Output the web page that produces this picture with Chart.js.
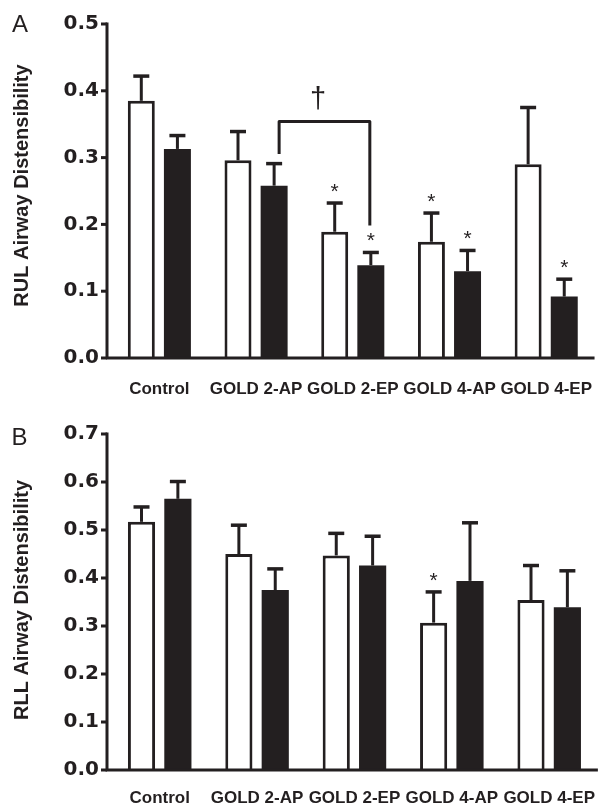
<!DOCTYPE html>
<html><head><meta charset="utf-8">
<script src="https://cdn.jsdelivr.net/npm/chart.js@4"></script>
<style>
html,body{margin:0;padding:0;background:#fff;overflow:hidden;}
#wrap{position:relative;width:613px;height:808px;background:#fff;}
canvas{position:absolute;left:0;}
#c1{top:0;} #c2{top:400px;}
</style></head><body>
<div id="wrap"><canvas id="c1" width="613" height="400"></canvas><canvas id="c2" width="613" height="408"></canvas></div>
<script>
// ---------- data ----------
const categories = ['Control', 'GOLD 2-AP', 'GOLD 2-EP', 'GOLD 4-AP', 'GOLD 4-EP'];

// Panel A: RUL
const rulOpen      = [0.385, 0.296, 0.189, 0.174, 0.290];
const rulOpenSem   = [0.037, 0.043, 0.043, 0.043, 0.085];
const rulFilled    = [0.313, 0.258, 0.139, 0.130, 0.092];
const rulFilledSem = [0.020, 0.033, 0.019, 0.031, 0.026];
const rulOpenStar   = [false, false, true, true, false];
const rulFilledStar = [false, false, true, true, true];
const rulTicks = [0.0, 0.1, 0.2, 0.3, 0.4, 0.5];
// bracket (values on y scale) between GOLD 2-AP and GOLD 2-EP filled bars
const rulBracket = {from: 1, to: 2, top: 0.354, leftEnd: 0.3055, rightEnd: 0.1985, mark: '\u2020'};

// Panel B: RLL
const rllOpen      = [0.517, 0.450, 0.447, 0.307, 0.354];
const rllOpenSem   = [0.031, 0.060, 0.046, 0.064, 0.072];
const rllFilled    = [0.565, 0.375, 0.426, 0.394, 0.339];
const rllFilledSem = [0.036, 0.044, 0.061, 0.121, 0.076];
const rllOpenStar   = [false, false, false, true, false];
const rllFilledStar = [false, false, false, false, false];
const rllTicks = [0.0, 0.1, 0.2, 0.3, 0.4, 0.5, 0.6, 0.7];

// ---------- drawing ----------
const INK = '#231f20';

function extrasPlugin(cfg) {
  return {
    id: 'extras',
    afterDatasetsDraw(chart) {
      const ctx = chart.ctx;
      const ys = chart.scales.y;
      const area = chart.chartArea;
      ctx.save();
      ctx.strokeStyle = INK;
      ctx.fillStyle = INK;
      ctx.lineCap = 'butt';

      // error bars + stars
      const sets = [[cfg.open, cfg.openSem, cfg.openStar], [cfg.filled, cfg.filledSem, cfg.filledStar]];
      sets.forEach((s, di) => {
        const meta = chart.getDatasetMeta(di);
        meta.data.forEach((bar, j) => {
          const x = bar.x;
          const yTop = ys.getPixelForValue(s[0][j]);
          const yCap = ys.getPixelForValue(s[0][j] + s[1][j]);
          ctx.lineWidth = 3;
          ctx.beginPath();
          ctx.moveTo(x, yTop); ctx.lineTo(x, yCap);
          ctx.stroke();
          ctx.lineWidth = 3.5;
          ctx.beginPath();
          ctx.moveTo(x - 8, yCap); ctx.lineTo(x + 8, yCap);
          ctx.stroke();
          if (s[2][j]) {
            ctx.font = '21px "Liberation Sans", Arial, sans-serif';
            ctx.textAlign = 'center';
            ctx.textBaseline = 'alphabetic';
            ctx.fillText('*', x, yCap - 5);
          }
        });
      });

      // bracket
      if (cfg.bracket) {
        const b = cfg.bracket;
        const meta = chart.getDatasetMeta(1);
        const lx = meta.data[b.from].x + 5;
        const rx = meta.data[b.to].x - 1;
        const ty = ys.getPixelForValue(b.top);
        ctx.lineWidth = 3;
        ctx.lineJoin = 'round';
        ctx.beginPath();
        ctx.moveTo(lx, ys.getPixelForValue(b.leftEnd));
        ctx.lineTo(lx, ty);
        ctx.lineTo(rx, ty);
        ctx.lineTo(rx, ys.getPixelForValue(b.rightEnd));
        ctx.stroke();
        ctx.font = '29px "Liberation Sans", Arial, sans-serif';
        ctx.textAlign = 'center';
        ctx.textBaseline = 'alphabetic';
        ctx.fillText(b.mark, lx + 0.43 * (rx - lx), ty - 14);
      }

      // axes
      const axX = 107;
      const yMaxPx = ys.getPixelForValue(cfg.ticks[cfg.ticks.length - 1]);
      ctx.lineWidth = 3;
      ctx.beginPath();
      ctx.moveTo(axX, yMaxPx - 1.5);
      ctx.lineTo(axX, area.bottom);
      ctx.lineTo(area.right, area.bottom);
      ctx.stroke();
      cfg.ticks.forEach(v => {
        const py = ys.getPixelForValue(v);
        ctx.beginPath();
        ctx.moveTo(axX - 6, py); ctx.lineTo(axX, py);
        ctx.stroke();
      });

      // axis title
      ctx.save();
      ctx.translate(cfg.titleX, cfg.titleY);
      ctx.rotate(-Math.PI / 2);
      ctx.font = 'bold 20px "Liberation Sans", Arial, sans-serif';
      ctx.textAlign = 'center';
      ctx.textBaseline = 'alphabetic';
      ctx.fillText(cfg.title, 0, 0);
      ctx.restore();

      // panel letter
      ctx.font = '24px "Liberation Sans", Arial, sans-serif';
      ctx.textAlign = 'left';
      ctx.textBaseline = 'alphabetic';
      ctx.fillText(cfg.panel, cfg.panelX, cfg.panelY);
      ctx.restore();
    }
  };
}

function buildChart(id, cfg) {
  return new Chart(document.getElementById(id), {
    type: 'bar',
    data: {
      labels: categories,
      datasets: [
        {data: cfg.open, backgroundColor: '#ffffff', borderColor: INK, borderWidth: 3},
        {data: cfg.filled, backgroundColor: INK, borderColor: INK, borderWidth: 0}
      ]
    },
    options: {
      responsive: false,
      animation: false,
      devicePixelRatio: 1,
      layout: {padding: {top: cfg.padTop, left: 0, right: 0, bottom: 0}},
      plugins: {legend: {display: false}, tooltip: {enabled: false}, title: {display: false}},
      datasets: {bar: {categoryPercentage: 0.747, barPercentage: 0.747}},
      scales: {
        x: {
          grid: {display: false, drawTicks: false},
          border: {display: false},
          ticks: {color: INK, font: {family: '"Liberation Sans", Arial, sans-serif', weight: 'bold', size: 17},
                  padding: cfg.xPad, maxRotation: 0, minRotation: 0, autoSkip: false},
          afterFit(s) { s.height = cfg.xHeight; }
        },
        y: {
          min: 0, max: cfg.ticks[cfg.ticks.length - 1],
          grid: {display: false, drawTicks: false},
          border: {display: false},
          ticks: {color: INK, font: {family: '"DejaVu Sans", sans-serif', weight: 'bold', size: 20},
                  padding: 12, callback: v => Number(v).toFixed(1)},
          afterBuildTicks(s) { s.ticks = cfg.ticks.map(v => ({value: v})); },
          afterFit(s) { s.width = 111; }
        }
      }
    },
    plugins: [extrasPlugin(cfg)]
  });
}

buildChart('c1', {
  open: rulOpen, openSem: rulOpenSem, filled: rulFilled, filledSem: rulFilledSem,
  openStar: rulOpenStar, filledStar: rulFilledStar, ticks: rulTicks, bracket: rulBracket,
  padTop: 23, xHeight: 42, xPad: 21,
  title: 'RUL Airway Distensibility', titleX: 28, titleY: 185.5,
  panel: 'A', panelX: 12, panelY: 32
});
buildChart('c2', {
  open: rllOpen, openSem: rllOpenSem, filled: rllFilled, filledSem: rllFilledSem,
  openStar: rllOpenStar, filledStar: rllFilledStar, ticks: rllTicks, bracket: null,
  padTop: 34, xHeight: 38, xPad: 18,
  title: 'RLL Airway Distensibility', titleX: 28, titleY: 200,
  panel: 'B', panelX: 11.5, panelY: 45
});
</script>
</body></html>
